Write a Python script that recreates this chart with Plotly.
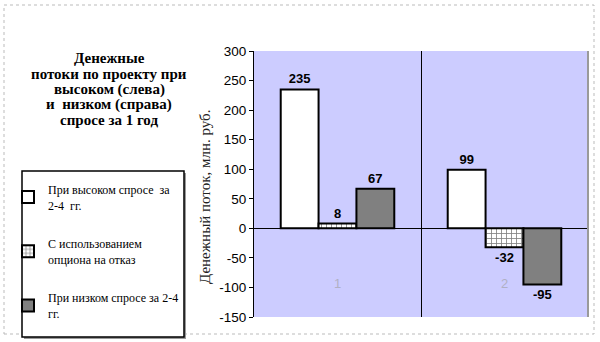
import plotly.graph_objects as go

categories = ["1", "2"]
series_names = [
    "При высоком спросе  за<br>2-4  гг.",
    "С использованием<br>опциона на отказ",
    "При низком спросе за 2-4<br>гг.",
]
high_demand = [235, 99]
with_option = [8, -32]
low_demand = [67, -95]
y_ticks = [-150, -100, -50, 0, 50, 100, 150, 200, 250, 300]
y_tick_labels = [str(v) for v in y_ticks]

title_lines = ["Денежные", "потоки по проекту при", "высоком (слева)",
               "и  низком (справа)", "спросе за 1 год"]
y_title = "Денежный поток, млн. руб."

W, H = 600, 342
ML, MR, MT, MB = 254, 12, 51, 25
PW, PH = W - ML - MR, H - MT - MB


def px(x):
    return (x - ML) / PW


def py(y):
    return (H - MB - y) / PH


serif = "Liberation Serif"
sans = "Liberation Sans"

fig = go.Figure()
line = dict(color="black", width=2)
txt = dict(family=sans, size=13, color="black")


def labels(vals):
    return [str(v) for v in vals]


fig.add_bar(x=categories, y=high_demand, name=series_names[0], legendgroup="a",
            marker=dict(color="white", line=line),
            text=labels(high_demand), texttemplate="<b>%{text}</b>", textposition="outside",
            textfont=txt, cliponaxis=False)
fig.add_bar(x=categories, y=with_option, name=series_names[1], legendgroup="b",
            marker=dict(color="white", line=line,
                        pattern=dict(shape="+", fgcolor="black", bgcolor="white",
                                     size=5, solidity=0.3, fillmode="overlay")),
            text=labels(with_option), texttemplate="<b>%{text}</b>", textposition="outside",
            textfont=txt, cliponaxis=False)
fig.add_bar(x=categories, y=low_demand, name=series_names[2], legendgroup="c",
            marker=dict(color="#808080", line=line),
            text=labels(low_demand), texttemplate="<b>%{text}</b>", textposition="outside",
            textfont=txt, cliponaxis=False)

annotations = []
for i, t in enumerate(title_lines):
    annotations.append(dict(text="<b>" + t + "</b>", x=px(109), y=py(58 + i * 15.5),
                            xref="paper", yref="paper", xanchor="center", yanchor="middle",
                            showarrow=False, font=dict(family=serif, size=15, color="black")))
annotations.append(dict(text=y_title, x=px(205), y=py(197), xref="paper", yref="paper",
                        xanchor="center", yanchor="middle", textangle=-90, showarrow=False,
                        font=dict(family=serif, size=15, color="#222")))
for i, c in enumerate(categories):
    annotations.append(dict(text=c, x=i, y=py(283), xref="x", yref="paper",
                            xanchor="center", yanchor="middle",
                            showarrow=False, font=dict(family=sans, size=13, color="#b0b0c4")))

shapes = [
    dict(type="rect", xref="paper", yref="paper", x0=px(4), x1=px(594),
         y0=py(334), y1=py(5), line=dict(color="#bbbbbb", width=1, dash="dot"), layer="below"),
    # legend shadow and frame
    dict(type="rect", xref="paper", yref="paper", x0=px(24), x1=px(186),
         y0=py(339), y1=py(173), line=dict(width=0), fillcolor="#9a9a9a", layer="below"),
    dict(type="rect", xref="paper", yref="paper", x0=px(22), x1=px(184),
         y0=py(337), y1=py(171), line=dict(color="black", width=1.5),
         fillcolor="white", layer="below"),
    # plot area right edge
    dict(type="line", xref="paper", yref="paper", x0=1, x1=1, y0=0, y1=1,
         line=dict(color="#9a9a9a", width=2)),
]

fig.update_layout(
    width=W, height=H,
    margin=dict(l=ML, r=MR, t=MT, b=MB, autoexpand=False),
    paper_bgcolor="white",
    plot_bgcolor="#ccccff",
    barmode="group",
    bargap=0.32,
    bargroupgap=0,
    showlegend=True,
    legend=dict(x=px(8), y=py(175), xanchor="left", yanchor="top",
                borderwidth=0, bgcolor="rgba(0,0,0,0)",
                font=dict(family=serif, size=12, color="black"),
                tracegroupgap=20, itemwidth=30, traceorder="grouped"),
    annotations=annotations,
    shapes=shapes,
    xaxis=dict(type="category", range=[-0.5, 1.5], showticklabels=False, ticks="",
               showline=False, showgrid=True, gridcolor="black", gridwidth=1,
               tickson="boundaries"),
    yaxis=dict(range=[-150, 300], tickvals=y_ticks, ticktext=y_tick_labels,
               showline=True, linecolor="black", linewidth=1, ticks="outside",
               ticklen=4, tickcolor="black",
               tickfont=dict(family=sans, size=13.5, color="black"),
               showgrid=False, zeroline=True, zerolinecolor="black", zerolinewidth=1),
)

fig.write_html("out.html")
